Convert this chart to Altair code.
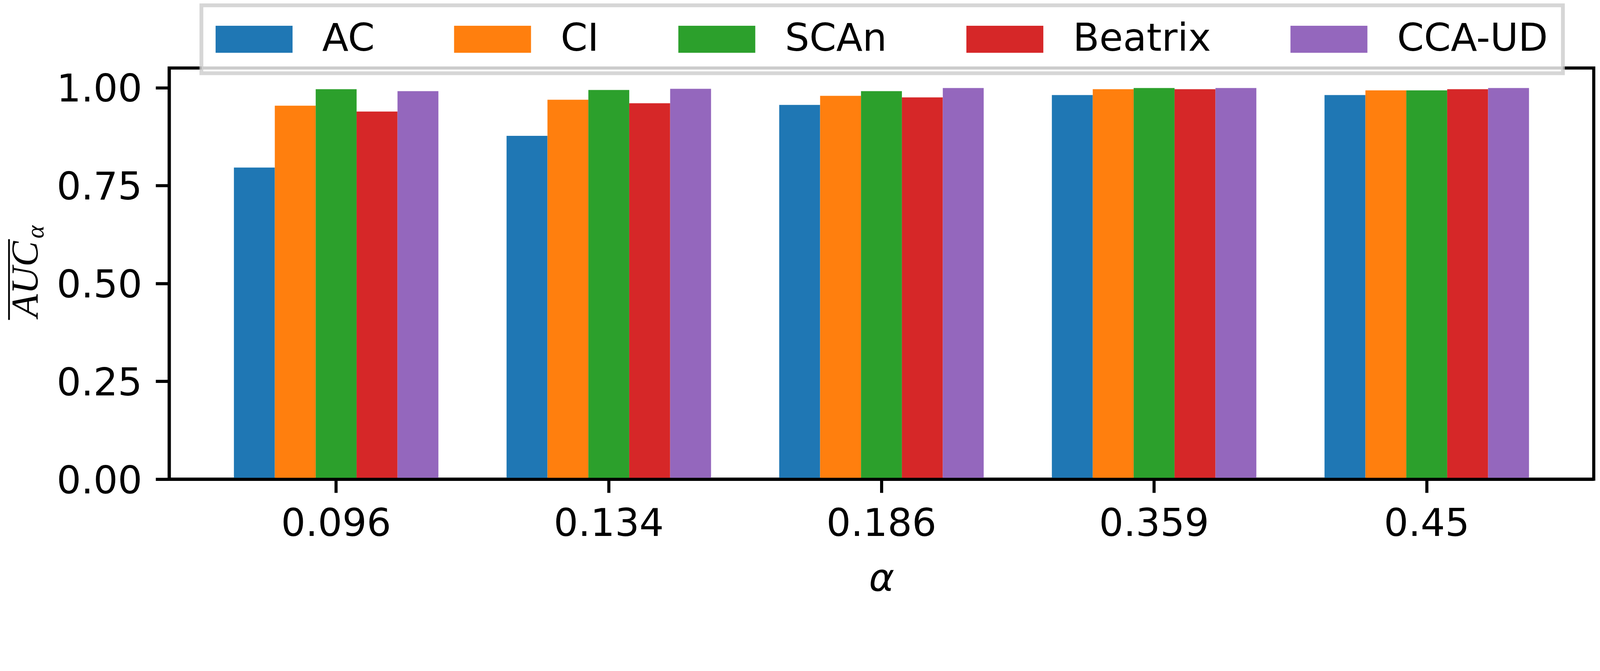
import altair as alt
import pandas as pd

alphas = ["0.096", "0.134", "0.186", "0.359", "0.45"]
methods = ["AC", "CI", "SCAn", "Beatrix", "CCA-UD"]
ac = [0.796, 0.877, 0.956, 0.981, 0.981]
ci = [0.954, 0.969, 0.979, 0.996, 0.993]
scan = [0.996, 0.994, 0.991, 0.999, 0.993]
beatrix = [0.939, 0.960, 0.975, 0.996, 0.996]
cca_ud = [0.991, 0.997, 0.999, 0.999, 0.999]
colors = ["#1f77b4", "#ff7f0e", "#2ca02c", "#d62728", "#9467bd"]
y_ticks = [0.0, 0.25, 0.5, 0.75, 1.0]
y_title_main = "AUC"
y_title_sub = "\u03b1"
x_title = "\u03b1"

series = {"AC": ac, "CI": ci, "SCAn": scan, "Beatrix": beatrix, "CCA-UD": cca_ud}
rows = [
    {"alpha": a, "method": m, "auc": v}
    for m in methods
    for a, v in zip(alphas, series[m])
]
df = pd.DataFrame(rows)

FONT = "DejaVu Sans"
FS = 111

bars = alt.Chart(df).mark_bar().encode(
    x=alt.X(
        "alpha:N",
        sort=alphas,
        scale=alt.Scale(paddingInner=0.25, paddingOuter=0.2375),
        axis=alt.Axis(
            title=x_title,
            labelAngle=0,
            labelFont=FONT,
            labelFontSize=FS,
            labelColor="black",
            labelLimit=2000,
            labelPadding=36,
            tickSize=39,
            tickWidth=8.9,
            tickColor="black",
            domainColor="black",
            domainWidth=9,
            titleFont=FONT,
            titleFontSize=FS,
            titleFontStyle="italic",
            titleFontWeight="normal",
            titleColor="black",
            titlePadding=49,
            bandPosition=0.5,
            grid=False,
            zindex=1,
        ),
    ),
    xOffset=alt.XOffset(
        "method:N", sort=methods, scale=alt.Scale(paddingInner=0, paddingOuter=0)
    ),
    y=alt.Y(
        "auc:Q",
        scale=alt.Scale(domain=[0, 1.05], nice=False, zero=True),
        axis=alt.Axis(
            title=None,
            values=y_ticks,
            format=".2f",
            labelFont=FONT,
            labelFontSize=FS,
            labelColor="black",
            labelLimit=2000,
            labelPadding=39,
            labelBaseline="alphabetic",
            labelOffset=40,
            tickSize=39,
            tickWidth=8.9,
            tickColor="black",
            domainColor="black",
            domainWidth=9,
            grid=False,
            zindex=1,
        ),
    ),
    color=alt.Color(
        "method:N",
        sort=methods,
        scale=alt.Scale(domain=methods, range=colors),
        legend=alt.Legend(
            title=None,
            orient="none",
            legendX=93,
            legendY=-181,
            direction="horizontal",
            columns=5,
            gridAlign="none",
            symbolType="M-2.846,-1H2.846V1H-2.846Z",
            symbolSize=6084,
            symbolOffset=54,
            symbolStrokeWidth=0,
            symbolOpacity=1,
            labelOffset=141,
            columnPadding=228,
            labelFont=FONT,
            labelFontSize=FS,
            labelColor="black",
            labelLimit=2000,
            padding=42.5,
            fillColor="rgba(255,255,255,0.8)",
            strokeColor="rgba(204,204,204,0.8)",
            cornerRadius=0,
        ),
    ),
)

ytitle_df = pd.DataFrame({"t": [y_title_main]})
ysub_df = pd.DataFrame({"t": [y_title_sub]})

ytitle = alt.Chart(ytitle_df).mark_text(
    angle=270,
    align="center",
    baseline="alphabetic",
    font="Liberation Serif",
    fontStyle="italic",
    fontSize=110,
    color="black",
).encode(text="t:N", x=alt.value(-380), y=alt.value(610))

# overline of the y title (part of the title glyphs)
yover = alt.Chart(ytitle_df).mark_rule(color="black", strokeWidth=5).encode(
    x=alt.value(-462), y=alt.value(494), y2=alt.value(727)
)

ysub = alt.Chart(ysub_df).mark_text(
    angle=270,
    align="left",
    baseline="alphabetic",
    font="Liberation Serif",
    fontStyle="italic",
    fontSize=72,
    color="black",
).encode(text="t:N", x=alt.value(-363), y=alt.value(492))

chart = (
    alt.layer(bars, ytitle, yover, ysub)
    .properties(
        width=4110,
        height=1187,
        padding={"left": 479, "top": 89, "right": 9, "bottom": 275},
        autosize=alt.AutoSizeParams(type="none"),
        background="white",
    )
    .configure_view(stroke="black", strokeWidth=9)
    .configure_legend(strokeWidth=11)
)

chart.save("out.html", embed_options={"renderer": "svg", "actions": False})
